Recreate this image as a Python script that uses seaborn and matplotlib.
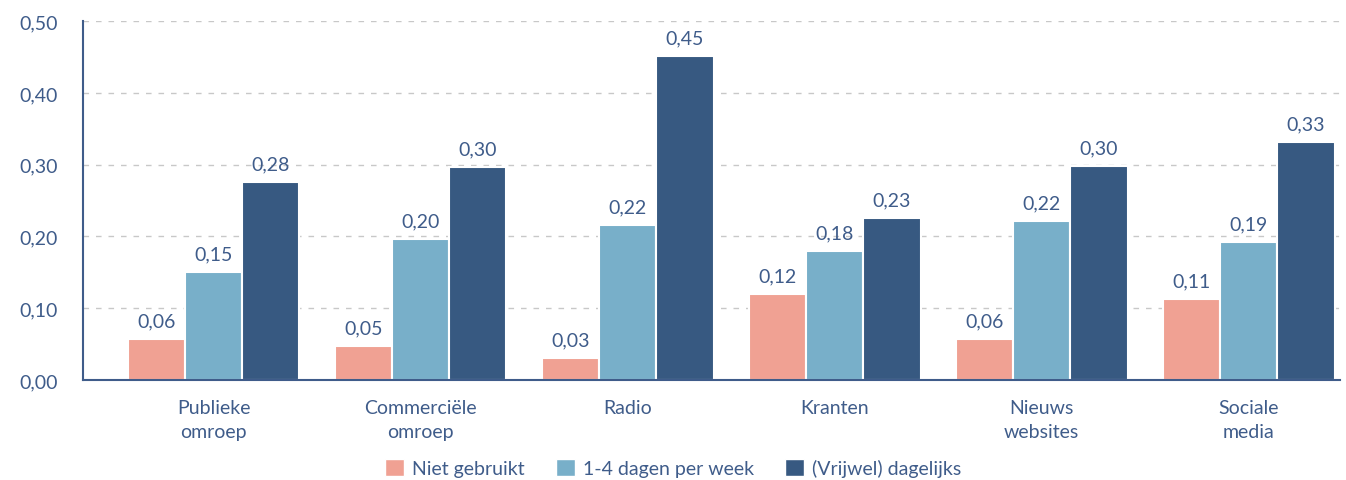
import pandas as pd
import matplotlib.pyplot as plt
import seaborn as sns
from matplotlib.patches import Patch

# data
categories = ['Publieke\nomroep', 'Commerciële\nomroep', 'Radio', 'Kranten', 'Nieuws\nwebsites', 'Sociale\nmedia']
series = ['Niet gebruikt', '1-4 dagen per week', '(Vrijwel) dagelijks']
niet_gebruikt = [0.057, 0.047, 0.031, 0.120, 0.057, 0.113]
dagen_per_week = [0.150, 0.196, 0.216, 0.180, 0.221, 0.192]
dagelijks = [0.276, 0.297, 0.451, 0.226, 0.298, 0.331]
yticks = [0.0, 0.1, 0.2, 0.3, 0.4, 0.5]

colors = ['#F0A193', '#78AFC9', '#375981']
text_color = '#3F5C8A'

rows = []
for name, vals in zip(series, [niet_gebruikt, dagen_per_week, dagelijks]):
    for cat, v in zip(categories, vals):
        rows.append({'categorie': cat, 'reeks': name, 'waarde': v})
df = pd.DataFrame(rows)

sns.set_style('white')
plt.rcParams['font.family'] = ['Lato', 'DejaVu Sans']

fig = plt.figure(figsize=(13.46, 4.81), dpi=100)
ax = fig.add_axes([0.0617, 0.208, 0.9338, 0.746])

sns.barplot(data=df, x='categorie', y='waarde', hue='reeks', palette=colors,
            saturation=1, width=0.83, edgecolor='white', linewidth=1.5,
            legend=False, ax=ax)

def comma(v):
    return f'{v:.2f}'.replace('.', ',')

for cont in ax.containers:
    ax.bar_label(cont, labels=[comma(b.get_height()) for b in cont],
                 padding=7, fontsize=14, color=text_color)

ax.set_ylim(0, 0.5)
ax.set_xlim(-0.63, 5.44)
ax.set_yticks(yticks)
ax.set_yticklabels([comma(t) for t in yticks])
ax.yaxis.grid(True, linestyle=(0, (4, 5)), color='#C8C8C8', linewidth=1)
ax.set_axisbelow(True)
ax.tick_params(axis='y', direction='in', length=11, width=1.5, color=text_color,
               labelsize=14, labelcolor=text_color, pad=18)
ax.tick_params(axis='x', length=0, labelsize=14, labelcolor=text_color, pad=14)
for lbl in ax.get_xticklabels():
    lbl.set_linespacing(1.45)
ax.set_xlabel('')
ax.set_ylabel('')
for s in ['top', 'right']:
    ax.spines[s].set_visible(False)
for s in ['left', 'bottom']:
    ax.spines[s].set_color(text_color)
    ax.spines[s].set_linewidth(1.5)

handles = [Patch(facecolor=c, label=l) for c, l in zip(colors, series)]
fig.legend(handles=handles, loc='lower center', bbox_to_anchor=(0.5, -0.03), ncol=3,
           frameon=False, fontsize=14, labelcolor=text_color, handlelength=1.0,
           handleheight=1.0, handletextpad=0.4, columnspacing=1.6)

fig.savefig('out.png', dpi=100)
